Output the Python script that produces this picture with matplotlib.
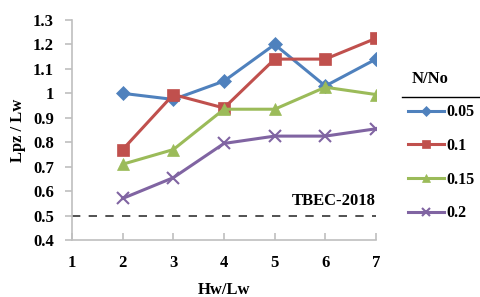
import matplotlib
matplotlib.use("Agg")
import matplotlib.pyplot as plt
from matplotlib.lines import Line2D

hw_lw = [2, 3, 4, 5, 6, 7]
ratio_labels = ["0.05", "0.1", "0.15", "0.2"]
lpz_005 = [1.00, 0.975, 1.05, 1.20, 1.03, 1.14]
lpz_010 = [0.77, 0.995, 0.94, 1.14, 1.14, 1.225]
lpz_015 = [0.71, 0.77, 0.935, 0.935, 1.025, 0.995]
lpz_020 = [0.57, 0.655, 0.795, 0.825, 0.825, 0.855]
tbec_limit = 0.5

plt.rcParams['font.family'] = ['Liberation Serif', 'DejaVu Serif']
plt.rcParams['font.weight'] = 'bold'
plt.rcParams['font.size'] = 12

fig = plt.figure(figsize=(4.81, 2.97), dpi=100)
ax = fig.add_axes([0.1497, 0.1919, 0.632, 0.7408])

styles = [
    ("#4F81BD", "D", 7),
    ("#C0504D", "s", 8),
    ("#9BBB59", "^", 8),
    ("#8064A2", "x", 8),
]
series = [lpz_005, lpz_010, lpz_015, lpz_020]
for vals, lab, (c, m, ms) in zip(series, ratio_labels, styles):
    ax.plot(hw_lw, vals, color=c, marker=m, markersize=ms, linewidth=2.2,
            markeredgewidth=1.5 if m == "x" else 0.5, label=lab)

ax.axhline(tbec_limit, color="#333333", linestyle=(0, (5, 5)), linewidth=1.2)
ax.text(7, tbec_limit + 0.025, "TBEC-2018", ha="right", va="bottom", fontweight="bold")

ax.set_xlim(1, 7)
ax.set_ylim(0.4, 1.3)
ax.set_xticks(range(1, 8))
ax.set_yticks([0.4, 0.5, 0.6, 0.7, 0.8, 0.9, 1.0, 1.1, 1.2, 1.3])
ax.set_yticklabels(["0.4", "0.5", "0.6", "0.7", "0.8", "0.9", "1", "1.1", "1.2", "1.3"])
for s in ["top", "right"]:
    ax.spines[s].set_visible(False)
for s in ["left", "bottom"]:
    ax.spines[s].set_color("#BFBFBF")
    ax.spines[s].set_linewidth(1.2)
ax.tick_params(axis="y", direction="out", length=5, color="#BFBFBF", width=1.2, pad=8)
ax.tick_params(axis="x", direction="in", length=5, color="#BFBFBF", width=1.2, pad=11)

ax.set_xlabel("Hw/Lw", fontweight="bold", labelpad=8)
ax.set_ylabel("Lpz / Lw", fontweight="bold", labelpad=5)

leg = ax.legend(loc="upper left", bbox_to_anchor=(1.083, 0.645), frameon=False,
                handlelength=2.3, handletextpad=0.15, labelspacing=1.1,
                markerscale=0.75, fontsize=11.5, borderaxespad=0)
fig.text(0.894, 0.734, "N/No", ha="center", va="center", fontweight="bold")
fig.add_artist(Line2D([0.836, 1.0], [0.673, 0.673], color="black", linewidth=1.0))

fig.savefig("out.png", dpi=100)
